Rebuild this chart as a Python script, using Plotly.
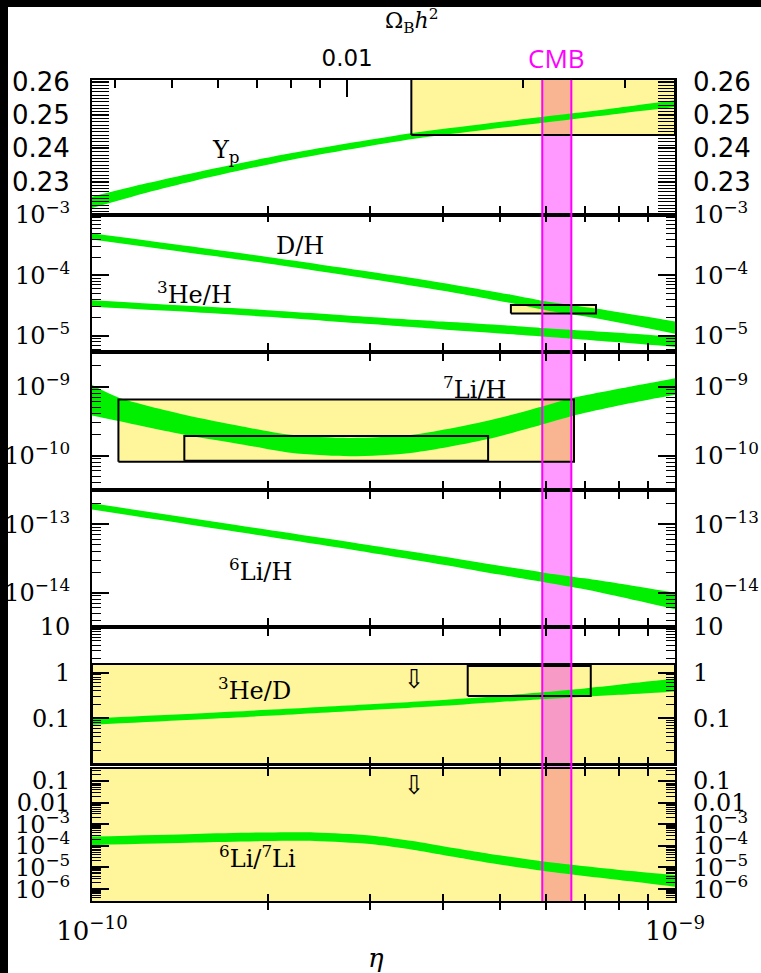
import math
import plotly.graph_objects as go

# ---------------- data (eta in units of 1e-10) ----------------
ETA_UNIT = 1e-10

yp_eta = [1.0, 1.24, 1.5, 2.19, 3.55, 4.73, 6.3, 8.0, 10.0]
yp_lo = [0.2221, 0.2267, 0.2303, 0.2365, 0.2428, 0.2456, 0.2482, 0.2504, 0.2524]
yp_hi = [0.2255, 0.2295, 0.2327, 0.2385, 0.2446, 0.2474, 0.2500, 0.2522, 0.2544]

dh_eta = [1.0, 2.0, 3.0, 4.0, 5.23, 6.06, 7.32, 10.0]
dh_lo = [3.94e-4, 1.57e-4, 8.71e-5, 5.56e-5, 3.47e-5, 2.60e-5, 1.95e-5, 1.08e-5]
dh_hi = [4.97e-4, 2.02e-4, 1.148e-4, 7.50e-5, 4.79e-5, 3.67e-5, 2.82e-5, 1.72e-5]

he3h_eta = [1.0, 1.5, 2.0, 3.0, 4.0, 5.0, 6.0, 8.0, 10.0]
he3h_lo = [3.01e-5, 2.44e-5, 2.06e-5, 1.556e-5, 1.27e-5, 1.09e-5, 9.6e-6, 7.76e-6, 6.49e-6]
he3h_hi = [3.88e-5, 3.10e-5, 2.65e-5, 2.05e-5, 1.72e-5, 1.507e-5, 1.33e-5, 1.12e-5, 9.6e-6]

li7_eta = [1.0, 1.11, 1.44, 1.81, 2.19, 2.77, 3.55, 4.73, 5.92, 6.64, 8.41, 10.0]
li7_lo = [3.80e-10, 3.16e-10, 2.00e-10, 1.445e-10, 1.096e-10, 9.77e-11, 1.096e-10,
          1.70e-10, 2.82e-10, 3.72e-10, 5.75e-10, 7.59e-10]
li7_hi = [1.047e-9, 6.92e-10, 3.89e-10, 2.63e-10, 2.00e-10, 1.80e-10, 2.00e-10,
          3.13e-10, 5.13e-10, 6.76e-10, 1.00e-9, 1.318e-9]

li6h_eta = [1.0, 2.0, 3.0, 4.0, 5.0, 6.0, 7.0, 8.0, 10.0]
li6h_lo = [1.641e-13, 6.61e-14, 3.85e-14, 2.57e-14, 1.84e-14, 1.41e-14, 1.122e-14, 8.81e-15, 5.75e-15]
li6h_hi = [2.018e-13, 8.32e-14, 4.95e-14, 3.39e-14, 2.48e-14, 1.95e-14, 1.622e-14, 1.365e-14, 1.00e-14]

he3d_eta = [1.0, 2.0, 3.0, 4.0, 5.0, 6.0, 7.0, 8.0, 10.0]
he3d_lo = [0.0724, 0.1132, 0.1517, 0.1888, 0.2286, 0.266, 0.2985, 0.3273, 0.389]
he3d_hi = [0.100, 0.1535, 0.2037, 0.2535, 0.3097, 0.3758, 0.4519, 0.5433, 0.741]

li67_eta = [1.0, 1.5, 2.0, 2.41, 3.0, 3.55, 4.0, 5.0, 6.0, 8.4, 10.0]
li67_lo = [1.07e-4, 1.41e-4, 1.66e-4, 1.66e-4, 1.20e-4, 6.61e-5, 3.80e-5, 1.38e-5, 6.76e-6, 2.29e-6, 1.29e-6]
li67_hi = [2.69e-4, 3.55e-4, 4.17e-4, 4.17e-4, 3.02e-4, 1.66e-4, 9.55e-5, 3.63e-5, 1.86e-5, 6.92e-6, 4.47e-6]

# observational boxes / limits
cmb_eta = [5.92, 6.64]
yp_box_eta, yp_box_val = [3.53, 10.0], [0.2440, 0.2620]
dh_box_eta, dh_box_val = [5.23, 7.32], [2.34e-5, 3.24e-5]
li7_outer_eta, li7_outer_val = [1.11, 6.71], [8.1e-11, 6.5e-10]
li7_inner_eta, li7_inner_val = [1.44, 4.78], [8.4e-11, 1.92e-10]
he3d_lim_eta, he3d_lim_val = [1.0, 10.0], [0.01, 1.55]
he3d_box_eta, he3d_box_val = [4.41, 7.17], [0.308, 1.40]
li67_lim_eta, li67_lim_val = [1.0, 10.0], [1e-7, 1.0]

# top axis (Omega_B h^2)
omega_ticks = [0.004, 0.005, 0.006, 0.007, 0.008, 0.009, 0.01, 0.02, 0.03]
omega_labeled = 0.01
omega_to_eta10 = 273.9

# axis tick labels
eta_minor_ticks = [2, 3, 4, 5, 6, 7, 8, 9]
yp_ticks = [0.23, 0.24, 0.25, 0.26]
yp_ticktext = ["0.23", "0.24", "0.25", "0.26"]
dh_ticks = [1e-3, 1e-4, 1e-5]
dh_ticktext = ["10<sup>−3</sup>", "10<sup>−4</sup>", "10<sup>−5</sup>"]
li7_ticks = [1e-9, 1e-10]
li7_ticktext = ["10<sup>−9</sup>", "10<sup>−10</sup>"]
li6_ticks = [1e-13, 1e-14]
li6_ticktext = ["10<sup>−13</sup>", "10<sup>−14</sup>"]
he3d_ticks = [10, 1, 0.1, 0.01]
he3d_ticktext = ["10", "1", "0.1", ""]
li67_ticks = [0.1, 0.01, 1e-3, 1e-4, 1e-5, 1e-6]
li67_ticktext = ["0.1", "0.01", "10<sup>−3</sup>", "10<sup>−4</sup>", "10<sup>−5</sup>", "10<sup>−6</sup>"]

# ---------------- styling ----------------
W, H = 761, 973
L, R, T, B = 92, 675, 80, 901
YELLOW = "#fff59b"
PINK = "#ff99ff"
SALMON = "#f9b591"
PINK_OVER_YELLOW = "#f79bc6"
GREEN = "#00f000"
MAGENTA = "#ff00ff"
SERIF = "DejaVu Serif"
SANS = "DejaVu Sans"

panel_px = [(80, 215), (215, 352), (352, 490), (490, 627), (627, 764), (769, 901)]
yranges = [[0.22, 0.2605], [-5.27, -3.0], [-10.5, -8.5], [-14.5, -12.5], [-2.0, 1.0], [-6.55, -0.45]]
ytypes = ["linear", "log", "log", "log", "log", "log"]
yticks = [(yp_ticks, yp_ticktext), (dh_ticks, dh_ticktext), (li7_ticks, li7_ticktext),
          (li6_ticks, li6_ticktext), (he3d_ticks, he3d_ticktext), (li67_ticks, li67_ticktext)]


def px_x(px):
    return (px - L) / (R - L)


def px_y(py):
    return (B - py) / (B - T)


def e(vals):
    return [v * ETA_UNIT for v in vals]


def sfx(i):
    return "" if i == 1 else str(i)


def minor_ticks(i):
    lo, hi = yranges[i - 1]
    out = []
    if ytypes[i - 1] == "linear":
        for k in range(0, 41):
            v = round(0.220 + 0.001 * k, 3)
            if v not in yp_ticks and v <= hi:
                out.append(v)
        return out
    for d in range(math.floor(lo) - 1, math.ceil(hi) + 1):
        for m in range(2, 10):
            val = m * 10 ** d
            if lo <= math.log10(val) <= hi:
                out.append(val)
    return out


fig = go.Figure()


def rect_trace(i, xr, yr, fill, line=None):
    xs = e([xr[0], xr[1], xr[1], xr[0], xr[0]])
    ys = [yr[0], yr[0], yr[1], yr[1], yr[0]]
    fig.add_trace(go.Scatter(
        x=xs, y=ys, mode="lines", fill="toself" if fill else None,
        fillcolor=fill if fill else None,
        line=dict(width=2 if line else 0, color=line if line else "rgba(0,0,0,0)"),
        xaxis="x" + sfx(i), yaxis="y" + sfx(i), hoverinfo="skip", showlegend=False))


def band(i, xs, lo, hi):
    fig.add_trace(go.Scatter(x=e(xs), y=lo, mode="lines", line=dict(width=0, shape="spline", smoothing=0.8),
                             xaxis="x" + sfx(i), yaxis="y" + sfx(i), hoverinfo="skip", showlegend=False))
    fig.add_trace(go.Scatter(x=e(xs), y=hi, mode="lines", fill="tonexty", fillcolor=GREEN,
                             line=dict(width=0, shape="spline", smoothing=0.8),
                             xaxis="x" + sfx(i), yaxis="y" + sfx(i), hoverinfo="skip", showlegend=False))


def overlap(xr):
    return [max(xr[0], cmb_eta[0]), min(xr[1], cmb_eta[1])]


# panel 1: Yp
rect_trace(1, yp_box_eta, yp_box_val, YELLOW)
rect_trace(1, overlap(yp_box_eta), yp_box_val, SALMON)
band(1, yp_eta, yp_lo, yp_hi)
rect_trace(1, yp_box_eta, yp_box_val, None, "black")

# panel 2: D/H, 3He/H
rect_trace(2, dh_box_eta, dh_box_val, YELLOW)
rect_trace(2, overlap(dh_box_eta), dh_box_val, SALMON)
band(2, dh_eta, dh_lo, dh_hi)
band(2, he3h_eta, he3h_lo, he3h_hi)
rect_trace(2, dh_box_eta, dh_box_val, None, "black")

# panel 3: 7Li/H
rect_trace(3, li7_outer_eta, li7_outer_val, YELLOW)
rect_trace(3, overlap(li7_outer_eta), li7_outer_val, SALMON)
band(3, li7_eta, li7_lo, li7_hi)
rect_trace(3, li7_outer_eta, li7_outer_val, None, "black")
rect_trace(3, li7_inner_eta, li7_inner_val, None, "black")

# panel 4: 6Li/H
band(4, li6h_eta, li6h_lo, li6h_hi)

# panel 5: 3He/D
rect_trace(5, he3d_lim_eta, he3d_lim_val, YELLOW)
rect_trace(5, overlap(he3d_lim_eta), he3d_lim_val, PINK_OVER_YELLOW)
band(5, he3d_eta, he3d_lo, he3d_hi)
rect_trace(5, he3d_lim_eta, he3d_lim_val, None, "black")
rect_trace(5, he3d_box_eta, he3d_box_val, None, "black")

# panel 6: 6Li/7Li
rect_trace(6, li67_lim_eta, li67_lim_val, YELLOW)
rect_trace(6, overlap(li67_lim_eta), li67_lim_val, SALMON)
band(6, li67_eta, li67_lo, li67_hi)

# ---------------- axes ----------------
layout = dict(width=W, height=H, margin=dict(l=L, r=W - R, t=T, b=H - B, pad=0, autoexpand=False),
              paper_bgcolor="white", plot_bgcolor="rgba(0,0,0,0)", showlegend=False,
              hovermode=False)

LW = 2
eta_tickvals = e(eta_minor_ticks)
for i in range(1, 7):
    s = sfx(i)
    top_px, bot_px = panel_px[i - 1]
    dom = [px_y(bot_px), px_y(top_px)]
    xa = dict(type="log", range=[-10, -9], domain=[0, 1], anchor="y" + s, automargin=False,
              showline=True, linecolor="black", linewidth=LW,
              mirror=True if i == 1 else "allticks",
              ticks="inside", ticklen=7, tickwidth=1.8, tickcolor="black",
              showgrid=False, zeroline=False)
    if i == 6:
        xa.update(tickvals=e([1.0]) + eta_tickvals + e([10.0]),
                  ticktext=["10<sup>−10</sup>"] + [""] * len(eta_tickvals) + ["10<sup>−9</sup>"],
                  showticklabels=True, tickfont=dict(family=SERIF, size=26, color="black"),
                  ticklabelstandoff=6)
    else:
        xa.update(tickvals=eta_tickvals, showticklabels=False)
    layout["xaxis" + s] = xa

    tv, tt = yticks[i - 1]
    yfont = dict(family=SANS if i == 1 else SERIF, size=26 if i == 1 else 24, color="black")
    layout["yaxis" + s] = dict(
        type=ytypes[i - 1], range=yranges[i - 1], domain=dom, anchor="x" + s, automargin=False,
        showline=True, linecolor="black", linewidth=LW, mirror="allticks",
        ticks="inside", ticklen=17, tickwidth=1.8, tickcolor="black",
        tickvals=tv, ticktext=tt, tickfont=yfont, ticklabelstandoff=15,
        minor=dict(tickmode="array", tickvals=minor_ticks(i), ticks="inside",
                   ticklen=9, tickwidth=1.4, tickcolor="black"),
        showgrid=False, zeroline=False)
    # right-hand labels: an independent axis on the same domain
    layout["yaxis" + str(i + 6)] = dict(
        type=ytypes[i - 1], range=yranges[i - 1], domain=dom, anchor="x" + s, side="right",
        automargin=False, showline=False, ticks="", tickvals=tv, ticktext=tt, tickfont=yfont,
        ticklabelstandoff=17, showgrid=False, zeroline=False)

# top Omega_B h^2 axis (independent axis on panel 1's domain)
om_minor = [o for o in omega_ticks if o != omega_labeled]
layout["xaxis7"] = dict(type="log", range=[-10, -9], domain=[0, 1], anchor="y", side="top",
                        automargin=False, showline=False, ticks="inside", ticklen=17, tickwidth=1.8,
                        tickcolor="black",
                        tickvals=e([omega_labeled * omega_to_eta10]), ticktext=["0.01"],
                        tickfont=dict(family=SANS, size=23, color="black"), ticklabelstandoff=8,
                        minor=dict(tickmode="array", tickvals=e([o * omega_to_eta10 for o in om_minor]),
                                   ticks="inside", ticklen=8, tickwidth=1.6, tickcolor="black"),
                        showgrid=False, zeroline=False)

fig.update_layout(**layout)

# empty traces so the extra axes get their subplots
for i in range(1, 7):
    fig.add_trace(go.Scatter(x=[None], y=[None], xaxis="x" + sfx(i), yaxis="y" + str(i + 6),
                             showlegend=False, hoverinfo="skip"))
fig.add_trace(go.Scatter(x=[None], y=[None], xaxis="x7", yaxis="y", showlegend=False, hoverinfo="skip"))

# CMB band
shapes = [
    dict(type="rect", xref="x", yref="paper", x0=cmb_eta[0] * ETA_UNIT, x1=cmb_eta[1] * ETA_UNIT,
         y0=0, y1=1, fillcolor=PINK, line=dict(width=0), layer="below"),
    dict(type="line", xref="x", yref="paper", x0=cmb_eta[0] * ETA_UNIT, x1=cmb_eta[0] * ETA_UNIT,
         y0=0, y1=1, line=dict(color=MAGENTA, width=2), layer="above"),
    dict(type="line", xref="x", yref="paper", x0=cmb_eta[1] * ETA_UNIT, x1=cmb_eta[1] * ETA_UNIT,
         y0=0, y1=1, line=dict(color=MAGENTA, width=2), layer="above"),
    # black borders of the picture
    dict(type="rect", xref="paper", yref="paper", x0=px_x(0), x1=px_x(W), y0=px_y(7), y1=px_y(-2),
         fillcolor="black", line=dict(width=0), layer="above"),
    dict(type="rect", xref="paper", yref="paper", x0=px_x(-2), x1=px_x(8), y0=px_y(H + 2), y1=px_y(-2),
         fillcolor="black", line=dict(width=0), layer="above"),
]
fig.update_layout(shapes=shapes)

ann = []


def label(text, px, py, size=24, family=SERIF, color="black"):
    ann.append(dict(text=text, x=px_x(px), y=px_y(py), xref="paper", yref="paper",
                    showarrow=False, xanchor="center", yanchor="middle",
                    font=dict(family=family, size=size, color=color)))


label("Ω<sub>B</sub><i>h</i><sup>2</sup>", 412, 21, size=22)
label("CMB", 556, 58, size=26, family="Open Sans", color=MAGENTA)
label("Y<sub>p</sub>", 226, 152, size=24)
label("D/H", 300, 246)
label("<sup>3</sup>He/H", 194, 293)
label("<sup>7</sup>Li/H", 474, 388)
label("<sup>6</sup>Li/H", 260, 570)
label("<sup>3</sup>He/D", 254, 689)
label("⇩", 414, 679, size=26)
label("⇩", 414, 785, size=26)
label("<sup>6</sup>Li/<sup>7</sup>Li", 257, 857)
label("<i>η</i>", 376, 958, size=26)
fig.update_layout(annotations=ann)

fig.write_html("out.html")
